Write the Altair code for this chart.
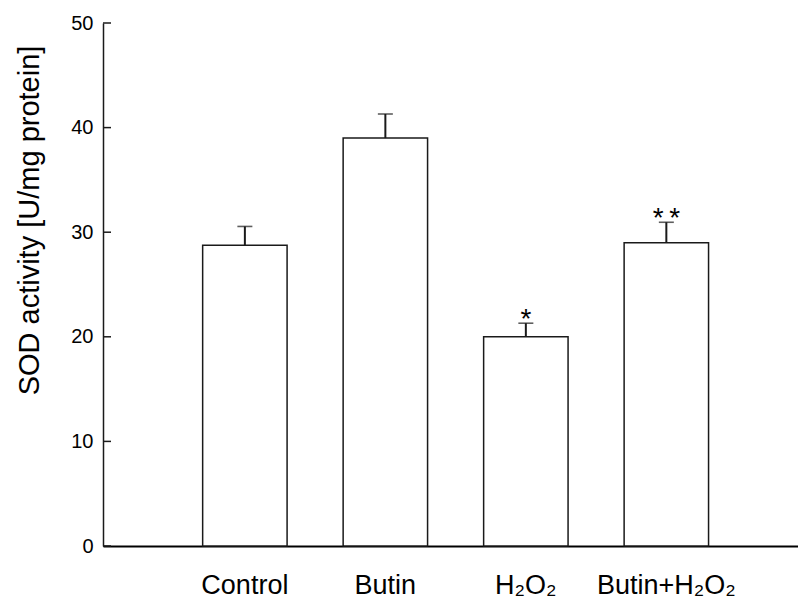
import altair as alt
import pandas as pd

# SOD activity per treatment group (mean and error)
groups = ["Control", "Butin", "H₂O₂", "Butin+H₂O₂"]
means = [28.75, 39.0, 20.0, 29.0]
errors = [1.8, 2.3, 1.3, 1.95]
significance = ["", "", "*", "*\u2009*"]
y_ticks = [0, 10, 20, 30, 40, 50]

FONT = "Liberation Sans"
INK = "#1a1a1a"

df = pd.DataFrame({"group": groups, "mean": means, "err": errors, "sig": significance})
df["upper"] = df["mean"] + df["err"]
ticks_df = pd.DataFrame({"mean": y_ticks})

y_scale = alt.Scale(domain=[0, 50], nice=False, zero=True)
x_scale = alt.Scale(paddingInner=0.399, paddingOuter=0.673, align=0.527)

x_enc = alt.X(
    "group:N",
    sort=groups,
    scale=x_scale,
    axis=alt.Axis(
        title=None,
        labelAngle=0,
        ticks=False,
        tickSize=0,
        domainColor="black",
        domainWidth=2,
        labelFont=FONT,
        labelFontSize=27,
        labelColor="black",
        labelBaseline="alphabetic",
        labelPadding=47,
    ),
)

y_axis = alt.Axis(
    values=y_ticks,
    ticks=False,
    tickSize=0,
    grid=False,
    labelFont=FONT,
    labelFontSize=20,
    labelColor="black",
    labelPadding=10,
    domainColor=INK,
    domainWidth=1.5,
    title="SOD activity [U/mg protein]",
    titleFont=FONT,
    titleFontSize=29,
    titleFontWeight="normal",
    titleColor="black",
    titleX=-65,
    titleY=197,
    titleAlign="center",
    titleBaseline="alphabetic",
)

bars = alt.Chart(df).mark_bar(fill="white", stroke=INK, strokeWidth=1.5).encode(
    x=x_enc,
    y=alt.Y("mean:Q", scale=y_scale, axis=y_axis),
)

err_line = alt.Chart(df).mark_rule(color=INK, strokeWidth=2).encode(
    x=alt.X("group:N", sort=groups),
    y=alt.Y("mean:Q"),
    y2="upper:Q",
)

err_cap = alt.Chart(df).mark_tick(color=INK, size=15, thickness=1.6).encode(
    x=alt.X("group:N", sort=groups),
    y=alt.Y("upper:Q"),
)

sig_text = alt.Chart(df).mark_text(
    font=FONT, fontSize=28, baseline="alphabetic", dy=5, color="black"
).encode(
    x=alt.X("group:N", sort=groups),
    y=alt.Y("upper:Q"),
    text="sig:N",
)

# inward-pointing y ticks
y_tick_marks = alt.Chart(ticks_df).mark_rule(color=INK, strokeWidth=1.5).encode(
    y=alt.Y("mean:Q", scale=y_scale, axis=y_axis),
    x=alt.value(0),
    x2=alt.value(8),
)

chart = (
    alt.layer(bars, err_line, err_cap, sig_text, y_tick_marks)
    .properties(
        width=695,
        height=523,
        autosize=alt.AutoSizeParams(type="none"),
        padding={"left": 103, "top": 23, "right": 0, "bottom": 53},
        background="white",
    )
    .configure_view(stroke=None)
)

chart.save("out.html", embed_options={"renderer": "svg", "actions": False})
